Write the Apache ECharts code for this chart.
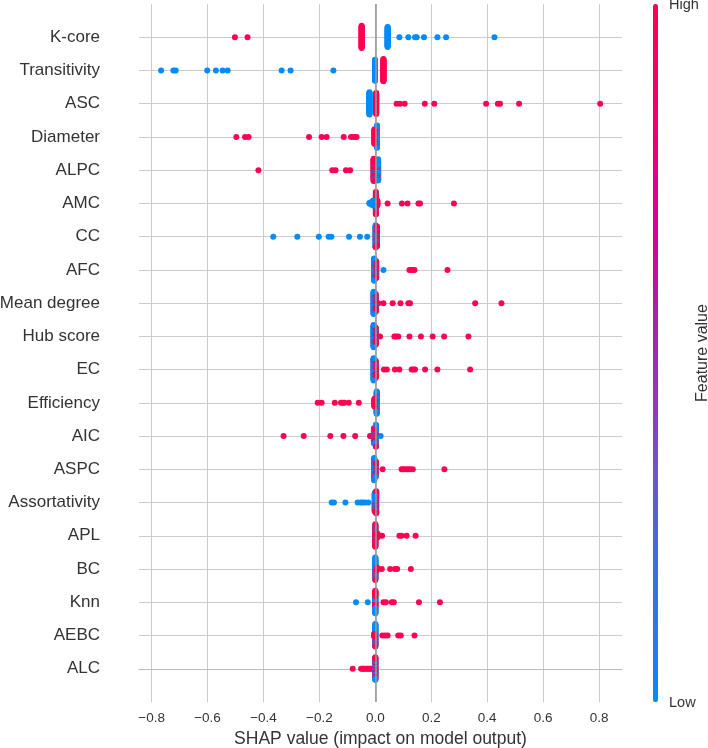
<!DOCTYPE html>
<html><head><meta charset="utf-8">
<script src="https://cdn.jsdelivr.net/npm/echarts@6/dist/echarts.min.js"></script>
<style>html,body{margin:0;padding:0;background:#fff}#c{width:708px;height:748px}</style>
</head><body><div id="c"></div>
<script>
// Feature names, top to bottom
const features = ['K-core','Transitivity','ASC','Diameter','ALPC','AMC','CC','AFC','Mean degree','Hub score','EC','Efficiency','AIC','ASPC','Assortativity','APL','BC','Knn','AEBC','ALC'];
const xTickLabels = [-0.8,-0.6,-0.4,-0.2,0.0,0.2,0.4,0.6,0.8];

// Individual points: [SHAP value, feature value (1 = high, 0 = low)]
// Dense stacks: [SHAP value, feature value, number of points]
const kcoreOut = [[-0.502,1],[-0.457,1],[0.086,0],[0.118,0],[0.142,0],[0.148,0],[0.174,0],[0.222,0],[0.253,0],[0.426,0]];
const kcoreBulk = [[-0.049,1,40],[0.044,0,36]];
const transOut = [[-0.766,0],[-0.722,0],[-0.714,0],[-0.601,0],[-0.570,0],[-0.546,0],[-0.528,0],[-0.335,0],[-0.303,0],[-0.150,0]];
const transBulk = [[-0.001,0,38],[0.029,1,40]];
const ascOut = [[0.076,1],[0.088,1],[0.105,1],[0.177,1],[0.211,1],[0.396,1],[0.438,1],[0.446,1],[0.514,1],[0.804,1]];
const ascBulk = [[-0.021,0,40],[0.003,1,38]];
const diamOut = [[-0.497,1],[-0.466,1],[-0.453,1],[-0.237,1],[-0.192,1],[-0.174,1],[-0.113,1],[-0.087,1],[-0.076,1],[-0.067,1]];
const diamBulk = [[-0.003,1,28],[0.006,0,36],[0.006,1,6]];
const alpcOut = [[-0.418,1],[-0.154,1],[-0.142,1],[-0.105,1],[-0.090,1]];
const alpcBulk = [[-0.006,1,34],[-0.006,0,6],[0.010,0,32],[0.010,1,6]];
const amcOut = [[0.044,1],[0.095,1],[0.115,1],[0.154,1],[0.160,1],[0.281,1]];
const amcBulk = [[0.002,1,34],[0.002,0,8],[0.007,1,10],[-0.008,0,10],[-0.015,0,5],[-0.021,0,2]];
const ccOut = [[-0.365,0],[-0.279,0],[-0.202,0],[-0.167,0],[-0.157,0],[-0.094,0],[-0.055,0],[-0.029,0]];
const ccBulk = [[0.001,0,26],[0.001,1,10],[0.006,1,26],[0.006,0,6]];
const afcOut = [[0.029,0],[0.122,1],[0.128,1],[0.134,1],[0.140,1],[0.258,1]];
const afcBulk = [[-0.004,0,34],[-0.004,1,8],[0.003,1,26],[0.003,0,6]];
const meanDegOut = [[0.011,1],[0.029,1],[0.062,1],[0.090,1],[0.118,1],[0.124,1],[0.357,1],[0.451,1]];
const meanDegBulk = [[-0.006,0,36],[-0.006,1,6],[0.001,1,28],[0.001,0,6]];
const hubOut = [[0.017,1],[0.068,1],[0.074,1],[0.082,1],[0.122,1],[0.163,1],[0.205,1],[0.246,1],[0.333,1]];
const hubBulk = [[-0.006,0,36],[-0.006,1,8],[0.001,1,28],[0.001,0,6]];
const ecOut = [[0.031,1],[0.041,1],[0.070,1],[0.086,1],[0.130,1],[0.136,1],[0.142,1],[0.178,1],[0.222,1],[0.339,1]];
const ecBulk = [[-0.006,0,36],[-0.006,1,8],[0.001,1,28],[0.001,0,6]];
const effOut = [[-0.206,1],[-0.192,1],[-0.145,1],[-0.123,1],[-0.117,1],[-0.111,1],[-0.095,1],[-0.059,1]];
const effBulk = [[-0.003,1,16],[0.005,0,36],[0.005,1,8]];
const aicOut = [[-0.328,1],[-0.256,1],[-0.161,1],[-0.114,1],[-0.072,1],[-0.019,1],[0.019,0]];
const aicBulk = [[-0.005,1,18],[-0.005,0,8],[0.002,0,28],[0.002,1,10]];
const aspcOut = [[0.026,1],[0.094,1],[0.100,1],[0.108,1],[0.116,1],[0.124,1],[0.134,1],[0.247,1]];
const aspcBulk = [[-0.004,0,34],[-0.004,1,8],[0.002,1,20],[0.002,0,8]];
const assortOut = [[-0.156,0],[-0.148,0],[-0.107,0],[-0.063,0],[-0.052,0],[-0.044,0],[-0.037,0],[-0.025,0]];
const assortBulk = [[-0.002,0,24],[-0.002,1,8],[0.003,1,30],[0.003,0,8]];
const aplOut = [[0.024,1],[0.086,1],[0.094,1],[0.112,1],[0.144,1]];
const aplBulk = [[0.000,1,36],[0.000,0,10],[0.008,1,8]];
const bcOut = [[0.023,1],[0.053,1],[0.070,1],[0.078,1],[0.127,1]];
const bcBulk = [[0.000,0,36],[0.000,1,12],[0.006,1,6]];
const knnOut = [[-0.069,0],[-0.027,0],[0.029,1],[0.038,1],[0.059,1],[0.066,1],[0.156,1],[0.231,1]];
const knnBulk = [[0.000,1,26],[0.000,0,24]];
const aebcOut = [[0.025,1],[0.035,1],[0.044,1],[0.082,1],[0.091,1],[0.140,1]];
const aebcBulk = [[0.000,0,36],[0.000,1,12],[-0.004,1,6]];
const alcOut = [[-0.081,1],[-0.051,1],[-0.046,1],[-0.042,1],[-0.037,1],[-0.032,1],[-0.027,1],[-0.022,1],[-0.018,1],[-0.013,1]];
const alcBulk = [[0.000,1,30],[0.000,0,24]];

const rows = [
  [kcoreOut,kcoreBulk],[transOut,transBulk],[ascOut,ascBulk],[diamOut,diamBulk],[alpcOut,alpcBulk],
  [amcOut,amcBulk],[ccOut,ccBulk],[afcOut,afcBulk],[meanDegOut,meanDegBulk],[hubOut,hubBulk],
  [ecOut,ecBulk],[effOut,effBulk],[aicOut,aicBulk],[aspcOut,aspcBulk],[assortOut,assortBulk],
  [aplOut,aplBulk],[bcOut,bcBulk],[knnOut,knnBulk],[aebcOut,aebcBulk],[alcOut,alcBulk]
];

function expand(out, bulk) {
  const pts = out.map(p => [p[0], p[1]]);
  const placed = bulk.map(() => 0);
  const total = bulk.reduce((s, c) => s + c[2], 0);
  for (let k = 0; k < total; k++) {
    let best = -1, bestR = Infinity;
    bulk.forEach((c, j) => {
      if (placed[j] < c[2]) { const r = (placed[j] + 0.5) / c[2]; if (r < bestR) { bestR = r; best = j; } }
    });
    pts.push([bulk[best][0], bulk[best][1]]);
    placed[best]++;
  }
  return pts;
}
// SHAP-style beeswarm stacking
function swarm(pts, rowY) {
  const xs = pts.map(p => p[0]);
  const mn = Math.min(...xs), mx = Math.max(...xs);
  const q = xs.map(x => Math.round(100 * (x - mn) / (mx - mn + 1e-8)));
  const idx = pts.map((_, i) => i).sort((a, b) => (q[a] - q[b]) || (a - b));
  const ys = new Array(pts.length).fill(0);
  let layer = 0, last = -1;
  for (const i of idx) {
    if (q[i] !== last) layer = 0;
    ys[i] = Math.ceil(layer / 2) * ((layer % 2) * 2 - 1);
    layer++; last = q[i];
  }
  const m = Math.max(...ys.map(y => y + 1));
  return pts.map((p, i) => [p[0], rowY + ys[i] * 0.9 * 0.4 / m, p[1]]);
}

const nRows = features.length;
let data = [];
rows.forEach((r, i) => { data = data.concat(swarm(expand(r[0], r[1]), nRows - 1 - i)); });

const FONT = "'Liberation Sans', Arial, sans-serif";
const chart = echarts.init(document.getElementById('c'), null, { renderer: 'canvas' });
chart.setOption({
  animation: false,
  backgroundColor: '#ffffff',
  textStyle: { fontFamily: FONT },
  grid: { left: 139, right: 86, top: 4, bottom: 46, containLabel: false, outerBoundsMode: 'none' },
  xAxis: {
    type: 'value', min: -0.845, max: 0.882, splitNumber: 8, minInterval: 0.2, maxInterval: 0.2,
    name: 'SHAP value (impact on model output)', nameLocation: 'middle', nameGap: 27,
    nameTextStyle: { fontSize: 17.5, color: '#333', fontFamily: FONT },
    axisLine: { show: true, lineStyle: { color: '#bbbbbb', width: 1 } },
    axisTick: { show: false },
    axisLabel: {
      showMinLabel: false, showMaxLabel: false, fontSize: 13.5, color: '#333', margin: 9, fontFamily: FONT,
      formatter: v => {
        const t = xTickLabels.find(x => Math.abs(x - v) < 1e-6);
        return t === undefined ? '' : t.toFixed(1).replace('-', '\u2212');
      }
    },
    splitLine: { show: true, showMinLine: false, showMaxLine: false, lineStyle: { color: '#cccccc', width: 1 } }
  },
  yAxis: {
    type: 'value', min: -1, max: nRows, interval: 1,
    axisLine: { show: false }, axisTick: { show: false },
    axisLabel: {
      fontSize: 17, color: '#333', margin: 39, fontFamily: FONT,
      formatter: v => (v >= 0 && v <= nRows - 1) ? features[nRows - 1 - v] : ''
    },
    splitLine: { show: true, showMinLine: false, showMaxLine: false, lineStyle: { color: '#cccccc', width: 1 } }
  },
  visualMap: {
    type: 'continuous', min: 0, max: 1, dimension: 2, seriesIndex: 0,
    orient: 'vertical', left: 638, top: -11, itemWidth: 5, itemHeight: 698,
    calculable: false, realtime: false, text: null, showLabel: false, hoverLink: false,
    inRange: { color: ['#008bfb', '#3a6ee9', '#6f52d6', '#a526bb', '#d00596', '#ec0070', '#ff0052'] }
  },
  series: [
    {
      type: 'scatter', data: data, symbolSize: 6, z: 3,
      itemStyle: { opacity: 1 }, emphasis: { disabled: true }, silent: true
    },
    {
      type: 'line', data: [], z: 1, silent: true,
      markLine: {
        silent: true, symbol: 'none', animation: false,
        label: { show: false },
        lineStyle: { color: '#999999', width: 1.6, type: 'solid' },
        data: [{ xAxis: 0 }]
      }
    }
  ],
  graphic: [
    { type: 'text', left: 669, top: -3, style: { text: 'High', font: '14.5px ' + FONT, fill: '#333' } },
    { type: 'text', left: 669, top: 695, style: { text: 'Low', font: '14.5px ' + FONT, fill: '#333' } },
    { type: 'text', x: 703, y: 353, rotation: Math.PI / 2,
      style: { text: 'Feature value', font: '16px ' + FONT, fill: '#333', align: 'center', verticalAlign: 'middle' } }
  ]
});
</script></body></html>
